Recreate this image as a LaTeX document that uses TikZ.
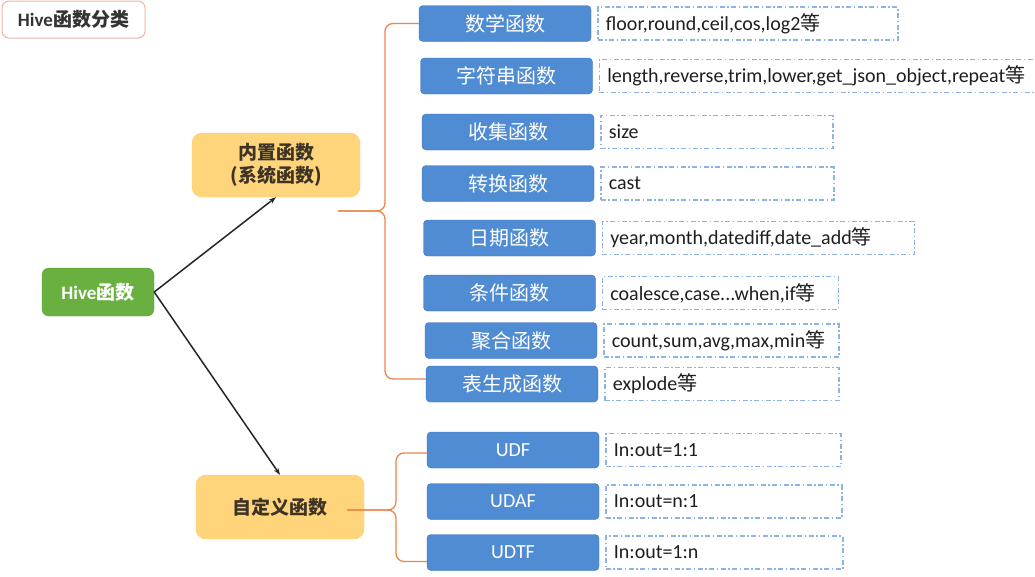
\documentclass[tikz,border=0pt]{standalone}
\usepackage{fontspec}
\setmainfont{Carlito}
\newfontfamily\zhfont{Noto Sans CJK SC}
\newcommand{\zh}[1]{{\zhfont #1}}
\usetikzlibrary{positioning,arrows.meta}
\definecolor{blueface}{RGB}{80,140,211}
\definecolor{blueline}{RGB}{64,114,182}
\definecolor{greenface}{RGB}{106,176,64}
\definecolor{greenline}{RGB}{92,158,52}
\definecolor{yellowface}{RGB}{255,213,124}
\definecolor{yellowline}{RGB}{253,204,112}
\definecolor{yellowtext}{RGB}{62,52,38}
\definecolor{titleline}{RGB}{240,182,160}
\definecolor{dashblue}{RGB}{141,180,226}
\definecolor{braceorange}{RGB}{236,134,76}
\tikzset{every node/.style={font=\fontsize{20}{24}\selectfont},
 title/.style={draw=titleline,line width=1pt,fill=white,rounded corners=7pt,
   minimum width=143pt,minimum height=37pt,text=black!80,font=\fontsize{19}{23}\selectfont\bfseries},
 root/.style={draw=greenline,fill=greenface,rounded corners=7pt,
   minimum width=112pt,minimum height=48pt,text=white,font=\fontsize{19}{23}\selectfont\bfseries},
 group/.style={draw=yellowline,fill=yellowface,rounded corners=10pt,align=center,
   minimum width=168pt,minimum height=64pt,text=yellowtext,font=\fontsize{19}{23}\selectfont\bfseries},
 fn/.style={draw=blueline,fill=blueface,rounded corners=4pt,
   minimum width=172pt,minimum height=36pt,text=white},
 desc/.style={draw=dashblue,line width=1.3pt,dash pattern=on 5pt off 2.5pt on 1.5pt off 2.5pt,
   minimum height=33pt,inner xsep=8pt,align=left,text=black!88,right=6pt of #1},
 arr/.style={draw=black!85,line width=1.5pt,-{Stealth[length=7pt,width=5pt]}},
 brace/.style={draw=braceorange,line width=1.3pt,rounded corners=8pt},
}
\begin{document}
\begin{tikzpicture}[x=1pt,y=-1pt]
  \useasboundingbox[fill=white] (0,0) rectangle (1035,576);
  % left part
  \node[title] (cls) at (73.5,19.5) {Hive\zh{函数分类}};
  \node[root] (hive) at (98,292) {Hive\zh{函数}};
  \node[group] (nz) at (276,165) {\zh{内置函数}\\\zh{(系统函数)}};
  \node[group] (zd) at (280,507) {\zh{自定义函数}};
  \draw[arr] (hive.east) -- (nz.south);
  \draw[arr] (hive.east) -- (zd.north);
  % built-in functions
  \node[fn] (t1) at (505,23.5) {\zh{数学函数}};
  \node[fn] (t2) at (506.5,76) {\zh{字符串函数}};
  \node[fn] (t3) at (508,132) {\zh{收集函数}};
  \node[fn] (t4) at (508,183.5) {\zh{转换函数}};
  \node[fn] (t5) at (509.5,238) {\zh{日期函数}};
  \node[fn] (t6) at (509.5,293) {\zh{条件函数}};
  \node[fn] (t7) at (511,340.5) {\zh{聚合函数}};
  \node[fn] (t8) at (512,384) {\zh{表生成函数}};
  \node[desc=t1,text width=284pt] (d1) {floor,round,ceil,cos,log2\zh{等}};
  \node[desc=t2,text width=420pt] (d2) {length,reverse,trim,lower,get\_json\_object,repeat\zh{等}};
  \node[desc=t3,text width=216pt] (d3) {size};
  \node[desc=t4,text width=217pt] (d4) {cast};
  \node[desc=t5,text width=296pt] (d5) {year,month,datediff,date\_add\zh{等}};
  \node[desc=t6,text width=220pt] (d6) {coalesce,case...when,if\zh{等}};
  \node[desc=t7,text width=219pt] (d7) {count,sum,avg,max,min\zh{等}};
  \node[desc=t8,text width=218pt] (d8) {explode\zh{等}};
  % user defined functions
  \node[fn] (u1) at (513,450) {UDF};
  \node[fn] (u2) at (513,501.5) {UDAF};
  \node[fn] (u3) at (513,552.5) {UDTF};
  \node[desc=u1,text width=219pt] (e1) {In:out=1:1};
  \node[desc=u2,text width=220pt] (e2) {In:out=n:1};
  \node[desc=u3,text width=221pt] (e3) {In:out=1:n};
  % braces
  \coordinate (bi) at (338,211);
  \coordinate (bz) at (347,510);
  \draw[brace] (bi) -- (385,211) |- (t1.west);
  \draw[brace] (bi) -- (385,211) |- ([yshift=5pt]t8.west);
  \draw[brace] (bz) -- (396,510) |- ([yshift=-3pt]u1.west);
  \draw[brace] (bz) -- (396,510) |- ([yshift=-9pt]u3.west);
\end{tikzpicture}
\end{document}
